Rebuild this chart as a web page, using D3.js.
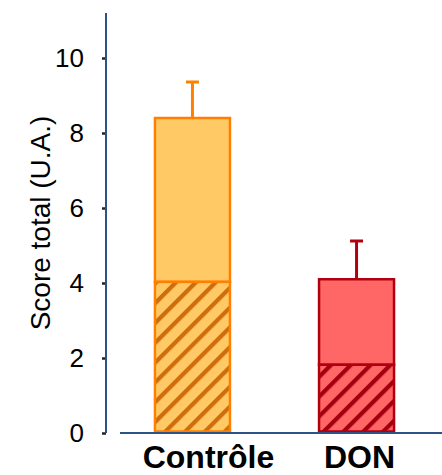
<!DOCTYPE html>
<html>
<head>
<meta charset="utf-8">
<script src="https://cdn.jsdelivr.net/npm/d3@7/dist/d3.min.js"></script>
<style>
  body { margin: 0; background: #fff; }
  text { font-family: Arial, "Liberation Sans", sans-serif; }
</style>
</head>
<body>
<div id="chart"></div>
<script>
const categories = ["Contrôle", "DON"];
const totals = [8.4, 4.1];
const hatched = [4.03, 1.82];
const errors = [0.96, 1.02];
const yTicks = [0, 2, 4, 6, 8, 10];

const fills = ["#ffc966", "#ff6666"];
const strokes = ["#ff8000", "#b30010"];
const hatchColors = ["#cf6d0c", "#a3000f"];

const width = 442, height = 475;

const svg = d3.select("#chart").append("svg")
  .attr("width", width)
  .attr("height", height);

const x = d3.scaleBand().domain(categories).range([110, 439])
  .paddingInner(0.543).paddingOuter(0.274);
const y = d3.scaleLinear().domain([0, 11.2]).range([433, 13]);

// hatch patterns
const defs = svg.append("defs");
categories.forEach((c, i) => {
  const p = defs.append("pattern")
    .attr("id", "hatch" + i)
    .attr("patternUnits", "userSpaceOnUse")
    .attr("width", 14).attr("height", 14)
    .attr("patternTransform", "rotate(45)");
  p.append("rect").attr("width", 14).attr("height", 14).attr("fill", fills[i]);
  p.append("line").attr("x1", 2).attr("x2", 2).attr("y1", 0).attr("y2", 14)
    .attr("stroke", hatchColors[i]).attr("stroke-width", 4.5);
});

// y axis
const yAxis = svg.append("g")
  .attr("transform", "translate(106,0)")
  .call(d3.axisLeft(y).tickValues(yTicks).tickSize(10).tickPadding(12));
yAxis.select(".domain").remove();
yAxis.selectAll(".tick line").attr("x2", -4).attr("stroke", "#222").attr("stroke-width", 2.5);
yAxis.selectAll(".tick text").attr("font-size", 26).attr("fill", "#000")
  .attr("font-family", "Arial, 'Liberation Sans', sans-serif");

svg.append("line")
  .attr("x1", 106).attr("x2", 106)
  .attr("y1", y(11.2)).attr("y2", y(0))
  .attr("stroke", "#2c5288").attr("stroke-width", 2);

svg.append("text")
  .attr("transform", `translate(50,${(y(0) + y(11.2)) / 2}) rotate(-90)`)
  .attr("text-anchor", "middle")
  .attr("font-size", 28)
  .text("Score total (U.A.)");

// error bars
const err = svg.append("g");
categories.forEach((c, i) => {
  const cx = x(c) + x.bandwidth() / 2;
  err.append("line")
    .attr("x1", cx).attr("x2", cx)
    .attr("y1", y(totals[i])).attr("y2", y(totals[i] + errors[i]))
    .attr("stroke", strokes[i]).attr("stroke-width", 3);
  err.append("line")
    .attr("x1", cx - 6.5).attr("x2", cx + 6.5)
    .attr("y1", y(totals[i] + errors[i])).attr("y2", y(totals[i] + errors[i]))
    .attr("stroke", strokes[i]).attr("stroke-width", 3);
});

// bars: upper plain part
svg.append("g").selectAll("rect")
  .data(categories)
  .join("rect")
  .attr("x", d => x(d))
  .attr("width", x.bandwidth())
  .attr("y", (d, i) => y(totals[i]))
  .attr("height", (d, i) => y(hatched[i]) - y(totals[i]))
  .attr("fill", (d, i) => fills[i])
  .attr("stroke", (d, i) => strokes[i])
  .attr("stroke-width", 2.5);

// bars: hatched lower part
svg.append("g").selectAll("rect")
  .data(categories)
  .join("rect")
  .attr("x", d => x(d))
  .attr("width", x.bandwidth())
  .attr("y", (d, i) => y(hatched[i]))
  .attr("height", (d, i) => y(0) - 1.5 - y(hatched[i]))
  .attr("fill", (d, i) => `url(#hatch${i})`)
  .attr("stroke", (d, i) => strokes[i])
  .attr("stroke-width", 2.5);

// x axis line
svg.append("line")
  .attr("x1", 120).attr("x2", width)
  .attr("y1", y(0)).attr("y2", y(0))
  .attr("stroke", "#2c5288").attr("stroke-width", 2);

// category labels
svg.append("g").selectAll("text")
  .data(categories)
  .join("text")
  .attr("x", d => x(d) + x.bandwidth() / 2)
  .attr("dx", (d, i) => i === 0 ? 16 : 3)
  .attr("y", 468)
  .attr("text-anchor", "middle")
  .attr("font-size", 32)
  .attr("font-weight", "bold")
  .text(d => d);
</script>
</body>
</html>
